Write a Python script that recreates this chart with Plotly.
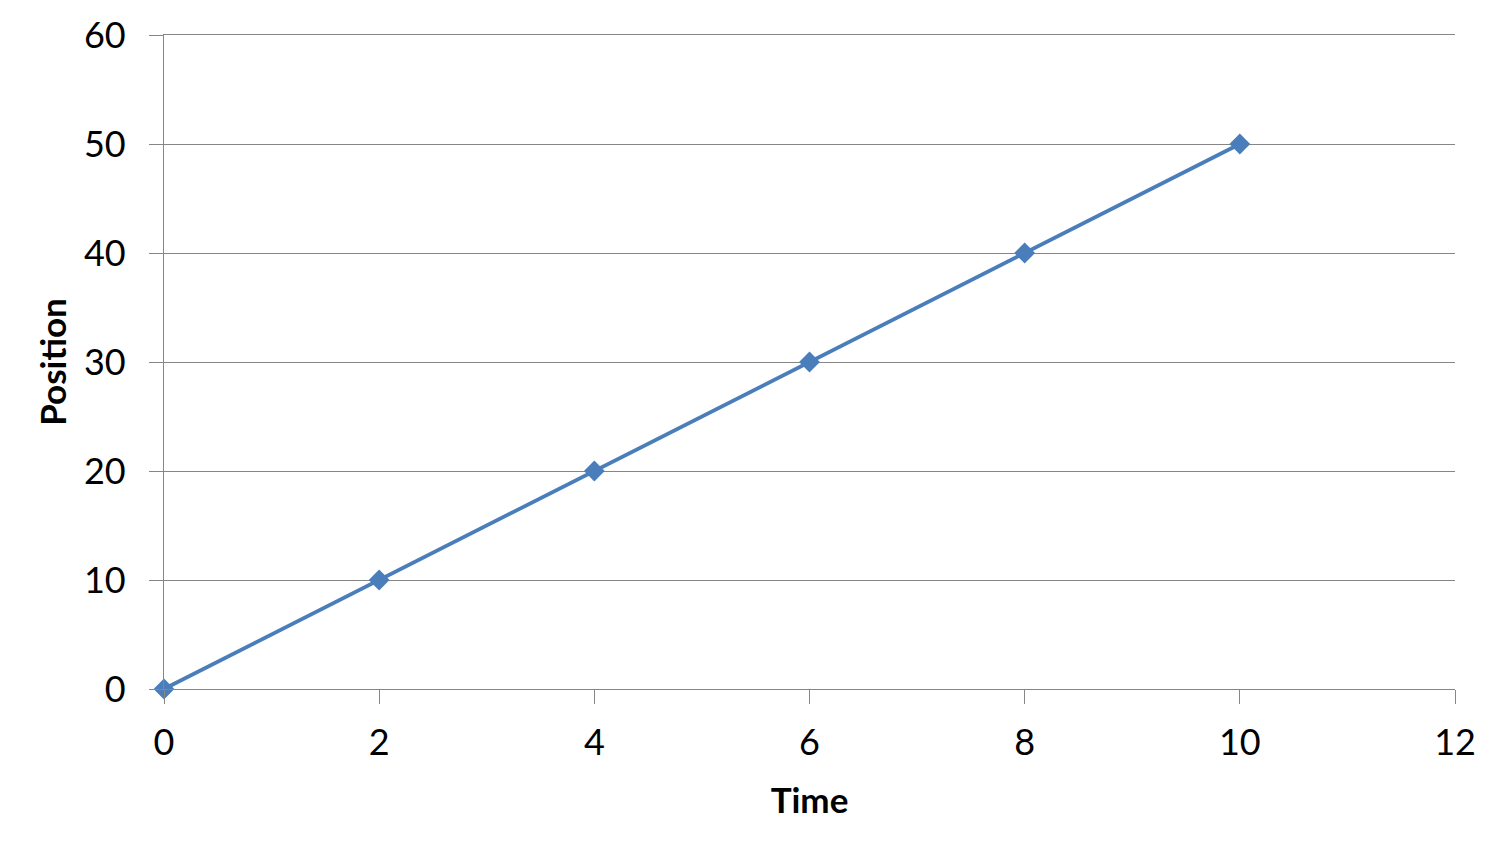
import plotly.graph_objects as go

# Data
time = [0, 2, 4, 6, 8, 10]
position = [0, 10, 20, 30, 40, 50]

grid_col = '#868686'
line_col = '#4A7EBB'

fig = go.Figure()
fig.add_trace(go.Scatter(
    x=time, y=position, mode='lines+markers',
    line=dict(color=line_col, width=3.8),
    marker=dict(symbol='diamond', size=16, color=line_col),
    showlegend=False, cliponaxis=False,
))

fig.update_xaxes(
    range=[0, 12], tick0=0, dtick=2,
    showgrid=False, zeroline=False, automargin=False,
    showline=True, mirror=True, linecolor=grid_col, linewidth=1.3,
    ticks='outside', ticklen=14, tickcolor=grid_col, tickwidth=1.3,
    ticklabelstandoff=8,
    tickfont=dict(family='Lato', size=36, color='black'),
    title=dict(text='<b>Time</b>', font=dict(family='Lato', size=35, color='black'), standoff=26),
)
fig.update_yaxes(
    range=[0, 60], tick0=0, dtick=10,
    showgrid=True, gridcolor=grid_col, gridwidth=1.3,
    zeroline=False, automargin=False,
    showline=True, linecolor=grid_col, linewidth=1.3,
    ticks='outside', ticklen=14, tickcolor=grid_col, tickwidth=1.3,
    ticklabelstandoff=16,
    tickfont=dict(family='Lato', size=36, color='black'),
    title=dict(text='<b>Position</b>', font=dict(family='Lato', size=35, color='black'), standoff=6),
)

fig.update_layout(
    width=1500, height=850,
    margin=dict(l=156, r=53, t=27, b=169),
    plot_bgcolor='white', paper_bgcolor='white',
)

fig.write_html("out.html")
